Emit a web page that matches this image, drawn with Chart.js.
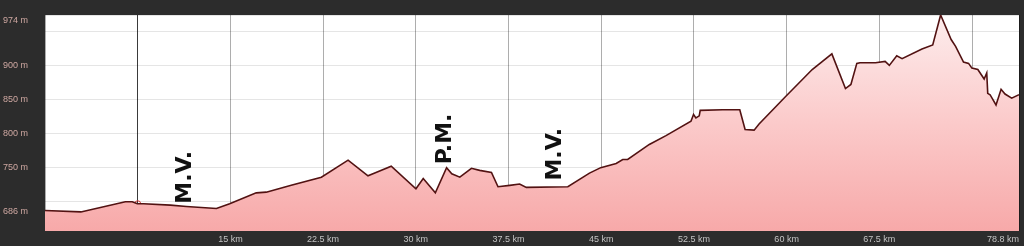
<!DOCTYPE html>
<html><head><meta charset="utf-8">
<script src="https://cdn.jsdelivr.net/npm/chart.js@4/dist/chart.umd.min.js"></script>
<style>html,body{margin:0;padding:0;background:#2c2c2c;overflow:hidden}canvas{display:block}</style>
</head><body><canvas id="c" width="1024" height="246"></canvas>
<script>
const distanceKm = [0, 2.9, 6.5, 7.06, 7.47, 7.97, 10.15, 11.44, 13.87, 14.94, 17.09, 17.9, 19.92, 22.36, 24.52, 26.13, 26.78, 28.01, 30.01, 30.6, 31.58, 32.49, 32.91, 33.56, 34.5, 35.17, 36.12, 36.65, 37.6, 38.4, 38.94, 42.3, 44.05, 44.96, 46.21, 46.74, 47.14, 48.89, 50.24, 52.26, 52.47, 52.66, 52.93, 53.01, 54.81, 56.21, 56.64, 57.37, 57.77, 59.9, 62.07, 63.66, 64.76, 65.2, 65.68, 65.93, 67.19, 67.97, 68.31, 68.91, 69.34, 70.95, 71.82, 72.46, 73.31, 73.67, 74.31, 74.72, 74.99, 75.47, 75.98, 76.19, 76.27, 76.46, 76.94, 77.35, 77.67, 78.21, 78.8];
const elevationM = [687, 685, 700, 700, 697, 697, 695, 693, 690, 697, 713, 714, 724, 736, 761, 738, 743, 752, 719, 734, 713, 750, 741, 736, 749, 746, 743, 722, 724, 726, 721, 722, 742, 750, 756, 762, 762, 784, 797, 818, 828, 823, 826, 834, 835, 835, 806, 805, 814, 854, 894, 917, 866, 872, 903, 904, 904, 906, 900, 914, 910, 924, 930, 974, 938, 928, 905, 903, 896, 894, 880, 889, 859, 857, 842, 865, 858, 852, 857];

const markerKm = [7.5];
const markerElev = [697];

const xTickValues = [0, 7.5, 15, 22.5, 30, 37.5, 45, 52.5, 60, 67.5, 75, 78.8];
const xLabelValues = [15, 22.5, 30, 37.5, 45, 52.5, 60, 67.5, 78.8];
const yTickValues = [686, 700, 750, 800, 850, 900, 950, 974];
const yLabelValues = [686, 750, 800, 850, 900, 974];

const noteLabels = ['M.V.', 'P.M.', 'M.V.'];
const noteKm = [11.36, 32.4, 41.3];
const noteElev = [697, 755, 731];

const bgPlugin = {
  id: 'bg',
  beforeDraw(chart) {
    const ctx = chart.ctx, a = chart.chartArea;
    ctx.save();
    ctx.fillStyle = '#2c2c2c';
    ctx.fillRect(0, 0, chart.width, chart.height);
    ctx.fillStyle = '#ffffff';
    ctx.fillRect(a.left, a.top, a.right - a.left, a.bottom - a.top);
    ctx.restore();
  }
};

const notePlugin = {
  id: 'notes',
  afterDraw(chart) {
    const ctx = chart.ctx, xs = chart.scales.x, ys = chart.scales.y;
    ctx.save();
    ctx.fillStyle = '#111111';
    ctx.font = 'bold 22px "DejaVu Sans", sans-serif';
    ctx.textAlign = 'left';
    ctx.textBaseline = 'middle';
    noteLabels.forEach((t, i) => {
      const px = xs.getPixelForValue(noteKm[i]);
      const py = ys.getPixelForValue(noteElev[i]);
      ctx.save();
      ctx.translate(px, py);
      ctx.rotate(-Math.PI / 2);
      ctx.fillText(t, 0, 0);
      ctx.restore();
    });
    ctx.restore();
  }
};

new Chart(document.getElementById('c'), {
  type: 'line',
  data: {
    datasets: [{
      data: distanceKm.map((k, i) => ({x: k, y: elevationM[i]})),
      borderColor: '#521212',
      borderWidth: 1.6,
      pointRadius: 0,
      tension: 0,
      fill: 'start',
      backgroundColor: (c) => {
        const a = c.chart.chartArea;
        if (!a) return '#f9c0c0';
        const g = c.chart.ctx.createLinearGradient(0, a.top, 0, a.bottom);
        g.addColorStop(0, '#fdeded');
        g.addColorStop(0.5, '#fbcaca');
        g.addColorStop(1, '#f7a9a9');
        return g;
      }
    }, {
      data: markerKm.map((k, i) => ({x: k, y: markerElev[i]})),
      showLine: false,
      pointRadius: 3,
      pointBorderWidth: 1,
      pointBorderColor: '#d23a3a',
      pointBackgroundColor: 'rgba(0,0,0,0)'
    }]
  },
  options: {
    responsive: false,
    animation: false,
    devicePixelRatio: 1,
    layout: {padding: {left: 3, top: 15, right: 5, bottom: 0}},
    plugins: {legend: {display: false}, tooltip: {enabled: false}},
    scales: {
      x: {
        type: 'linear', min: 0, max: 78.8, z: 1,
        afterBuildTicks: (s) => { s.ticks = xTickValues.map(v => ({value: v})); },
        afterFit: (s) => { s.height = 15; },
        border: {display: false},
        grid: {
          drawTicks: false, lineWidth: 1,
          color: (c) => (c.tick && c.tick.value === 7.5) ? '#3a3a3a' : 'rgba(0,0,0,0.32)'
        },
        ticks: {
          autoSkip: false, maxRotation: 0, align: 'inner', padding: 3,
          color: '#c4c4c4', font: {family: '"Liberation Sans", Arial, sans-serif', size: 9},
          callback: (v) => xLabelValues.includes(v) ? v + ' km' : ''
        }
      },
      y: {
        type: 'linear', min: 657, max: 974, z: 1,
        afterBuildTicks: (s) => { s.ticks = yTickValues.map(v => ({value: v})); },
        afterFit: (s) => { s.width = 42; },
        border: {display: false},
        grid: {drawTicks: false, lineWidth: 1, color: 'rgba(0,0,0,0.1)'},
        ticks: {
          autoSkip: false, crossAlign: 'far', padding: 0,
          color: '#cfa8a2', font: {family: '"Liberation Sans", Arial, sans-serif', size: 9},
          callback: (v) => {
            if (!yLabelValues.includes(v)) return '';
            return v === 974 ? ['', v + ' m'] : v + ' m';
          }
        }
      }
    }
  },
  plugins: [bgPlugin, notePlugin]
});
</script>
</body></html>
